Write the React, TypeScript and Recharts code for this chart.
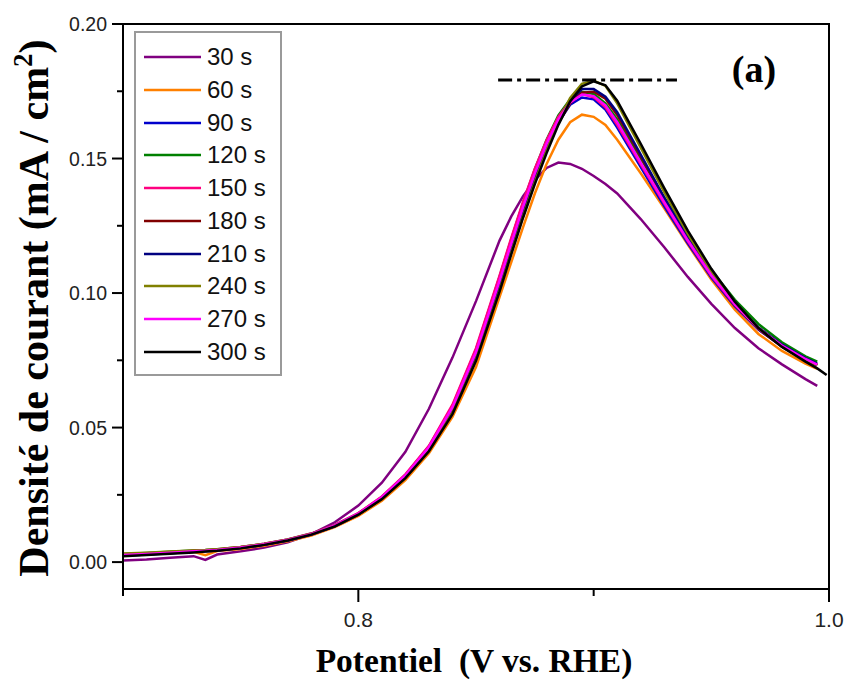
import React from 'react';
import { LineChart, Line, XAxis, YAxis, ReferenceLine, ReferenceArea, Legend, Label } from 'recharts';

const potentials = [0.70, 0.71, 0.72, 0.73, 0.735, 0.74, 0.75, 0.76, 0.77, 0.78, 0.79, 0.80, 0.81, 0.82, 0.83, 0.84, 0.85, 0.86, 0.865, 0.87, 0.875, 0.88, 0.885, 0.89, 0.895, 0.90, 0.905, 0.91, 0.92, 0.93, 0.94, 0.95, 0.96, 0.97, 0.98, 0.99, 0.995, 0.999];

const seriesLabels = ['30 s', '60 s', '90 s', '120 s', '150 s', '180 s', '210 s', '240 s', '270 s', '300 s'];
const seriesColors = ['#800080', '#FF8000', '#0000CC', '#008000', '#FF0080', '#800000', '#000080', '#808000', '#FF00FF', '#000000'];

const s30 = [0.0006, 0.0010, 0.0016, 0.0022, 0.0008, 0.0028, 0.0040, 0.0054, 0.0074, 0.0104, 0.0148, 0.0210, 0.0295, 0.0410, 0.0570, 0.0760, 0.0970, 0.1195, 0.1285, 0.1360, 0.1420, 0.1465, 0.1485, 0.1480, 0.1462, 0.1435, 0.1405, 0.1370, 0.1275, 0.1170, 0.1060, 0.0960, 0.0870, 0.0795, 0.0735, 0.0680, 0.0655, null];
const s60 = [0.0028, 0.0031, 0.0035, 0.0038, 0.0026, 0.0041, 0.0049, 0.0061, 0.0077, 0.0099, 0.0130, 0.0172, 0.0228, 0.0305, 0.0405, 0.0540, 0.0725, 0.0985, 0.1115, 0.1245, 0.1370, 0.1480, 0.1570, 0.1635, 0.1663, 0.1655, 0.1625, 0.1570, 0.1445, 0.1315, 0.1180, 0.1050, 0.0938, 0.0848, 0.0785, 0.0738, 0.0718, null];
const s90 = [0.0024, 0.0028, 0.0033, 0.0038, 0.0040, 0.0043, 0.0052, 0.0064, 0.0080, 0.0102, 0.0133, 0.0177, 0.0237, 0.0317, 0.0420, 0.0570, 0.0770, 0.1035, 0.1175, 0.1310, 0.1435, 0.1545, 0.1635, 0.1700, 0.1727, 0.1720, 0.1682, 0.1615, 0.1468, 0.1322, 0.1185, 0.1058, 0.0950, 0.0864, 0.0802, 0.0752, 0.0733, null];
const s120 = [0.0030, 0.0034, 0.0038, 0.0043, 0.0045, 0.0048, 0.0056, 0.0068, 0.0084, 0.0106, 0.0137, 0.0181, 0.0242, 0.0324, 0.0430, 0.0580, 0.0790, 0.1060, 0.1200, 0.1335, 0.1460, 0.1570, 0.1660, 0.1720, 0.1748, 0.1740, 0.1705, 0.1645, 0.1500, 0.1355, 0.1215, 0.1085, 0.0975, 0.0885, 0.0817, 0.0765, 0.0745, null];
const s150 = [0.0026, 0.0030, 0.0036, 0.0042, 0.0044, 0.0047, 0.0056, 0.0068, 0.0084, 0.0106, 0.0138, 0.0182, 0.0244, 0.0326, 0.0432, 0.0585, 0.0795, 0.1065, 0.1205, 0.1340, 0.1462, 0.1568, 0.1655, 0.1715, 0.1740, 0.1728, 0.1690, 0.1625, 0.1478, 0.1332, 0.1192, 0.1063, 0.0955, 0.0868, 0.0805, 0.0755, 0.0735, null];
const s180 = [0.0027, 0.0031, 0.0036, 0.0041, 0.0043, 0.0046, 0.0054, 0.0066, 0.0082, 0.0104, 0.0135, 0.0178, 0.0238, 0.0318, 0.0420, 0.0565, 0.0765, 0.1025, 0.1165, 0.1300, 0.1425, 0.1538, 0.1632, 0.1705, 0.1745, 0.1748, 0.1722, 0.1662, 0.1508, 0.1350, 0.1200, 0.1067, 0.0954, 0.0866, 0.0801, 0.0751, 0.0731, null];
const s210 = [0.0025, 0.0029, 0.0034, 0.0039, 0.0041, 0.0044, 0.0053, 0.0065, 0.0081, 0.0103, 0.0134, 0.0177, 0.0237, 0.0316, 0.0418, 0.0560, 0.0760, 0.1020, 0.1160, 0.1295, 0.1420, 0.1537, 0.1637, 0.1715, 0.1758, 0.1758, 0.1730, 0.1672, 0.1515, 0.1355, 0.1205, 0.1072, 0.0960, 0.0872, 0.0808, 0.0758, 0.0738, null];
const s240 = [0.0032, 0.0035, 0.0039, 0.0043, 0.0045, 0.0048, 0.0056, 0.0067, 0.0083, 0.0105, 0.0135, 0.0178, 0.0236, 0.0315, 0.0416, 0.0555, 0.0752, 0.1010, 0.1150, 0.1285, 0.1412, 0.1530, 0.1638, 0.1725, 0.1778, 0.1790, 0.1770, 0.1705, 0.1540, 0.1375, 0.1220, 0.1080, 0.0962, 0.0870, 0.0803, 0.0753, 0.0732, null];
const s270 = [0.0026, 0.0030, 0.0035, 0.0040, 0.0042, 0.0045, 0.0054, 0.0066, 0.0082, 0.0104, 0.0136, 0.0180, 0.0241, 0.0322, 0.0427, 0.0575, 0.0780, 0.1045, 0.1185, 0.1320, 0.1445, 0.1555, 0.1645, 0.1708, 0.1738, 0.1732, 0.1698, 0.1635, 0.1485, 0.1338, 0.1196, 0.1066, 0.0957, 0.0869, 0.0805, 0.0755, 0.0734, null];
const s300 = [0.0022, 0.0026, 0.0031, 0.0036, 0.0039, 0.0042, 0.0051, 0.0064, 0.0080, 0.0102, 0.0133, 0.0176, 0.0234, 0.0312, 0.0412, 0.0550, 0.0748, 0.1005, 0.1145, 0.1280, 0.1405, 0.1520, 0.1625, 0.1712, 0.1768, 0.1787, 0.1772, 0.1715, 0.1555, 0.1390, 0.1232, 0.1090, 0.0968, 0.0870, 0.0800, 0.0745, 0.0720, 0.0695];

const seriesValues = [s30, s60, s90, s120, s150, s180, s210, s240, s270, s300];

const xTicks = [0.7, 0.8, 0.9, 1.0];
const xLabelled = [0.8, 1.0];
const yTicks = [0, 0.025, 0.05, 0.075, 0.1, 0.125, 0.15, 0.175, 0.2];
const yLabelled = [0, 0.05, 0.1, 0.15, 0.2];
const xDomain = [0.7, 1.0];
const yDomain = [-0.01, 0.2];

const peakLevel = 0.1792;
const peakLineStart = 0.8594;
const peakLineEnd = 0.9354;

const data = potentials.map((p, i) => {
  const row: any = { p };
  seriesValues.forEach((arr, k) => {
    row['s' + k] = arr[i];
  });
  return row;
});

const SANS = 'Liberation Sans, Arial, sans-serif';
const SERIF = 'Liberation Serif, Times New Roman, serif';

const near = (list: number[], v: number) => list.some((t) => Math.abs(t - v) < 1e-9);

const YTick = (props: any) => {
  const { x, y, payload } = props;
  const v = payload.value;
  const major = near(yLabelled, v);
  return (
    <g>
      <line x1={x} x2={x - (major ? 11 : 6)} y1={y} y2={y} stroke="#000" strokeWidth={2} />
      {major && (
        <text x={x - 16} y={y} textAnchor="end" dominantBaseline="central" fontFamily={SANS} fontSize={19.5} fill="#222">
          {v.toFixed(2)}
        </text>
      )}
    </g>
  );
};

const XTick = (props: any) => {
  const { x, y, payload } = props;
  const v = payload.value;
  const major = near(xLabelled, v);
  return (
    <g>
      <line x1={x} x2={x} y1={y} y2={y + (major ? 13 : 7)} stroke="#000" strokeWidth={2} />
      {major && (
        <text x={x} y={y + 30} textAnchor="middle" dominantBaseline="central" fontFamily={SANS} fontSize={21} fill="#222">
          {v.toFixed(1)}
        </text>
      )}
    </g>
  );
};

const XTitle = () => (
  <g>
    <text x={474} y={672} textAnchor="middle" fontFamily={SERIF} fontWeight="bold" fontSize={33.5} fill="#000" style={{ whiteSpace: 'pre' }}>
      {'Potentiel  (V vs. RHE)'}
    </text>
    <text x={754} y={82} textAnchor="middle" fontFamily={SERIF} fontWeight="bold" fontSize={38} fill="#000">
      (a)
    </text>
  </g>
);

const YTitle = () => (
  <text
    x={48}
    y={308}
    transform="rotate(-90, 48, 308)"
    textAnchor="middle"
    fontFamily={SERIF}
    fontWeight="bold"
    fontSize={42}
    fill="#000"
  >
    Densité de courant (mA / cm
    <tspan fontSize={27} dy={-16}>2</tspan>
    <tspan dy={16}>)</tspan>
  </text>
);

const LegendBox = () => (
  <div
    style={{
      width: 148,
      height: 345,
      boxSizing: 'border-box',
      border: '2px solid #9a9a9a',
      background: '#fff',
      position: 'relative',
    }}
  >
    {seriesLabels.map((lab, i) => (
      <div
        key={lab}
        style={{
          position: 'absolute',
          left: 8,
          top: 26 - 16 + i * 32.75 - 2,
          height: 32,
          display: 'flex',
          alignItems: 'center',
        }}
      >
        <svg width={57} height={6} style={{ display: 'block' }}>
          <line x1={0} x2={57} y1={3} y2={3} stroke={seriesColors[i]} strokeWidth={2.5} />
        </svg>
        <span style={{ marginLeft: 6, fontFamily: SANS, fontSize: 24, color: '#111', lineHeight: '32px' }}>{lab}</span>
      </div>
    ))}
  </div>
);

export default function App() {
  return (
    <div style={{ position: 'absolute', left: 0, top: 0, width: 847, height: 681, background: '#fff' }}>
      <LineChart width={847} height={681} data={data} margin={{ top: 24, right: 18, bottom: 0, left: 0 }}>
        <XAxis
          dataKey="p"
          type="number"
          domain={xDomain}
          ticks={xTicks}
          allowDataOverflow
          height={92}
          tickSize={0}
          tickMargin={0}
          tick={<XTick />}
          tickLine={false}
          axisLine={{ stroke: '#000', strokeWidth: 2 }}
          interval={0}
        >
          <Label content={<XTitle />} />
        </XAxis>
        <YAxis
          type="number"
          domain={yDomain}
          ticks={yTicks}
          allowDataOverflow
          width={123}
          tickSize={0}
          tickMargin={0}
          tick={<YTick />}
          tickLine={false}
          axisLine={{ stroke: '#000', strokeWidth: 2 }}
          interval={0}
        >
          <Label content={<YTitle />} />
        </YAxis>
        <ReferenceArea
          x1={xDomain[0]}
          x2={xDomain[1]}
          y1={yDomain[0]}
          y2={yDomain[1]}
          fill="none"
          stroke="#000"
          strokeWidth={2}
          ifOverflow="visible"
        />
        {seriesValues.map((_, k) => (
          <Line
            key={k}
            dataKey={'s' + k}
            name={seriesLabels[k]}
            stroke={seriesColors[k]}
            strokeWidth={2.5}
            dot={false}
            type="linear"
            isAnimationActive={false}
            connectNulls={false}
          />
        ))}
        <ReferenceLine
          segment={[
            { x: peakLineStart, y: peakLevel },
            { x: peakLineEnd, y: peakLevel },
          ]}
          stroke="#000"
          strokeWidth={3}
          strokeDasharray="14 5 4 5"
          ifOverflow="visible"
        />
        <Legend
          content={<LegendBox />}
          layout="vertical"
          align="center"
          verticalAlign="middle"
          wrapperStyle={{ left: 134, top: 31, width: 148, height: 345 }}
        />
      </LineChart>
    </div>
  );
}
